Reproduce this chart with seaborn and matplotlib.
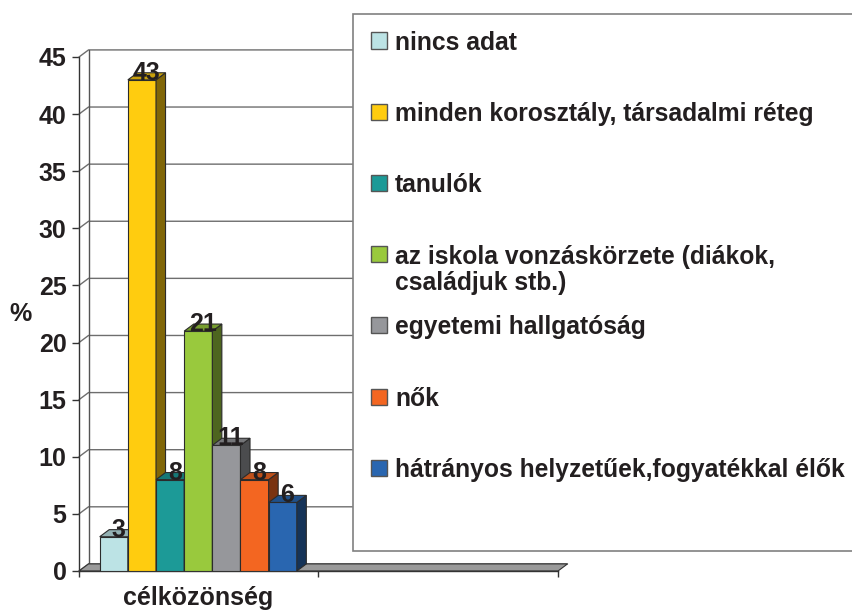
import numpy as np
import pandas as pd
import matplotlib.pyplot as plt
import matplotlib.colors as mcolors
from matplotlib.patches import Polygon, Rectangle
from matplotlib.lines import Line2D
import seaborn as sns

# data
category = "célközönség"
groups = ["nincs adat",
          "minden korosztály, társadalmi réteg",
          "tanulók",
          "az iskola vonzáskörzete (diákok,\ncsaládjuk stb.)",
          "egyetemi hallgatóság",
          "nők",
          "hátrányos helyzetűek,fogyatékkal élők"]
values = [3, 43, 8, 21, 11, 8, 6]
colors = ["#BCE3E5", "#FFCC0F", "#1C9A97", "#99C93D", "#96979B", "#F36621", "#2966B0"]

sns.set_style("white")
plt.rcParams["font.family"] = ["Liberation Sans", "DejaVu Sans"]
plt.rcParams["font.weight"] = "bold"
txt = "#231F20"
fs = 18

W, H = 853, 612
fig = plt.figure(figsize=(W / 100, H / 100), dpi=100)
ax = fig.add_axes([79 / W, 1 - 571 / H, (558 - 79) / W, (571 - 57) / H])

df = pd.DataFrame({"cat": [category] * len(values), "group": groups, "value": values})
sns.barplot(data=df, x="cat", y="value", hue="group", hue_order=groups,
            palette=colors, saturation=1, width=0.8, dodge=True,
            edgecolor="#2b2b2b", linewidth=0.8, legend=False, ax=ax)

x0, x1 = -0.484, 1.46
ax.set_xlim(x0, x1)
ax.set_ylim(0, 45)
# 3d depth in data units
dx, dy = 9.5 / 246, 0.62

# back wall grid + connectors
yt = np.arange(0, 50, 5)
for v in yt:
    ax.add_line(Line2D([x0, x0 + dx, x1 + dx], [v, v + dy, v + dy],
                       color="#6e6e6e", lw=1, zorder=1, clip_on=False))
ax.add_line(Line2D([x0 + dx, x0 + dx], [dy, 45 + dy], color="#555555", lw=1,
                   zorder=1, clip_on=False))
# floor
ax.add_patch(Polygon([(x0, 0), (x1, 0), (x1 + dx, dy), (x0 + dx, dy)],
                     closed=True, facecolor="#9a9a9a", edgecolor="#333333",
                     lw=0.8, zorder=2, clip_on=False))

for i, (p, v, c) in enumerate(zip(ax.patches[:len(values)], values, colors)):
    bx, bw, bh = p.get_x(), p.get_width(), p.get_height()
    rgb = np.array(mcolors.to_rgb(c))
    p.set_zorder(3 + i)
    side = Polygon([(bx + bw, 0), (bx + bw + dx, dy), (bx + bw + dx, bh + dy), (bx + bw, bh)],
                   closed=True, facecolor=rgb * 0.5, edgecolor="#2b2b2b", lw=0.8,
                   zorder=3.5 + i, clip_on=False)
    top = Polygon([(bx, bh), (bx + dx, bh + dy), (bx + bw + dx, bh + dy), (bx + bw, bh)],
                  closed=True, facecolor=rgb * 0.78, edgecolor="#2b2b2b", lw=0.8,
                  zorder=3.5 + i, clip_on=False)
    ax.add_patch(side)
    ax.add_patch(top)
    ax.text(bx + bw / 2 + dx / 2, bh + dy, f"{v}", ha="center", va="center",
            fontsize=fs, fontweight="bold", color=txt, zorder=30, clip_on=False)

for s in ["top", "right"]:
    ax.spines[s].set_visible(False)
for s in ["left", "bottom"]:
    ax.spines[s].set_color("#333333")
    ax.spines[s].set_linewidth(1)

ax.set_yticks(yt)
ax.tick_params(axis="y", left=True, length=5, width=1, color="#333333", pad=4,
               labelsize=fs, labelcolor=txt)
for t in ax.get_yticklabels():
    t.set_fontweight("bold")
ax.set_xticks([0])
ax.set_xticklabels([category], fontsize=fs, fontweight="bold", color=txt)
ax.set_xticks([x0, 0.484, x1], minor=True)
ax.tick_params(axis="x", which="major", bottom=False, length=0, pad=11)
ax.tick_params(axis="x", which="minor", bottom=True, length=4.5, width=1, color="#333333")
ax.set_xlabel("")
ax.set_ylabel("%", rotation=0, fontsize=fs, fontweight="bold", color=txt,
              ha="center", va="center")
ax.yaxis.set_label_coords(-0.123, 0.5)

# legend box
fig.patches.append(Rectangle((353 / W, 1 - 551 / H), 520 / W, (551 - 14) / H,
                             transform=fig.transFigure, facecolor="white",
                             edgecolor="#808080", lw=1.2, zorder=10))
lfs = 17.7
line_px = 1.1 * lfs * 100 / 72
for i, (g, c) in enumerate(zip(groups, colors)):
    yc = 43 + 71.2 * i
    extra = g.count("\n") * line_px
    fig.patches.append(Rectangle((371 / W, 1 - (yc + 5.5) / H), 16 / W, 16 / H,
                                 transform=fig.transFigure, facecolor=c,
                                 edgecolor="#555555", lw=1, zorder=11))
    fig.text(395 / W, 1 - (yc + 6.5 + extra) / H, g, ha="left", va="baseline",
             fontsize=lfs, fontweight="bold", color=txt, linespacing=1.1, zorder=12)

fig.savefig("out.png", dpi=100)
